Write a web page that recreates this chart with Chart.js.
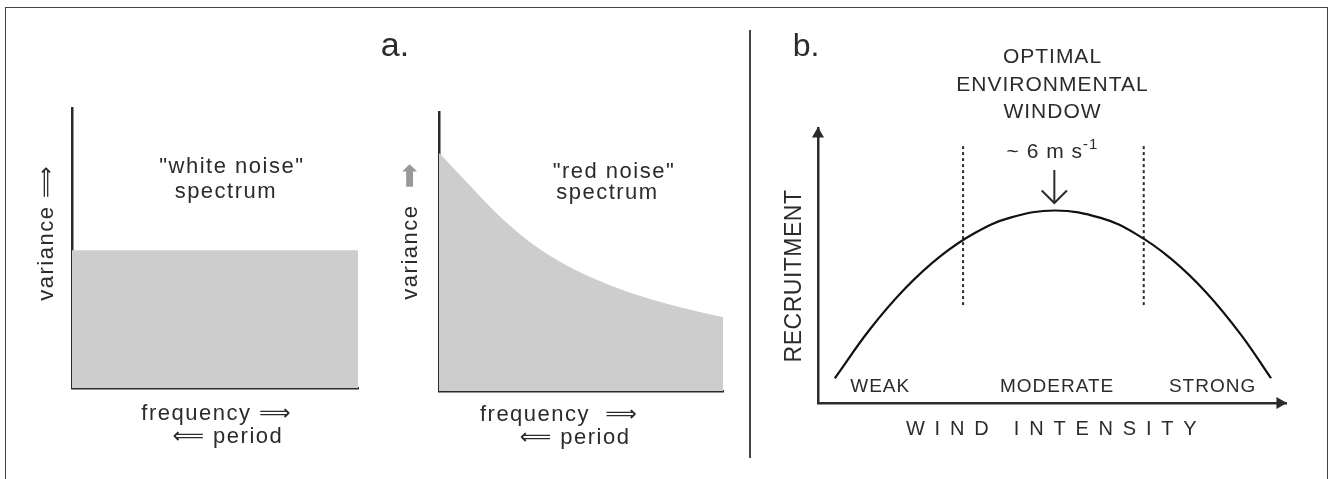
<!DOCTYPE html>
<html>
<head>
<meta charset="utf-8">
<script src="https://cdn.jsdelivr.net/npm/chart.js@4.4.0/dist/chart.umd.min.js"></script>
<style>
  html, body { margin: 0; padding: 0; background: #fff; overflow: hidden; }
  #page { position: relative; width: 1332px; height: 479px; overflow: hidden; }
  #frame { position: absolute; left: 5px; top: 7px; width: 1321px; height: 520px; border: 1px solid #444; }
  #divider { position: absolute; left: 749px; top: 30px; width: 2px; height: 428px; background: #444; }
  .panel { position: absolute; left: 0; top: 0; width: 1332px; height: 479px; }
</style>
</head>
<body>
<div id="page">
  <div id="frame"></div>
  <div id="divider"></div>
  <div class="panel"><canvas id="whiteNoiseChart"></canvas></div>
  <div class="panel"><canvas id="redNoiseChart"></canvas></div>
  <div class="panel"><canvas id="windowChart"></canvas></div>
</div>
<script>
(() => {
  'use strict'

  // panel a, left: flat spectrum
  const whiteNoiseX = [0, 100];
  const whiteNoiseY = [49, 49];

  // panel a, right: decaying spectrum
  const redNoiseX = [0, 9.7, 21.5, 33.2, 45, 56.7, 68.4, 80.2, 91.9, 100];
  const redNoiseY = [85.2, 74.7, 62.3, 52.3, 44.8, 39.2, 34.7, 31.1, 28.1, 26.3];

  // panel b: recruitment vs wind intensity
  const windX = [3.6, 11.1, 18.6, 26.1, 33.6, 41.1, 50.7, 60.4, 67.9, 75.4, 82.9, 90.4, 96.8];
  const recruitY = [9.0, 26.8, 41.6, 53.3, 61.9, 67.4, 70.0, 67.3, 61.5, 52.5, 40.3, 24.8, 9.0];
  const windowEdges = [31.0, 69.6];
  const windowSpan = [35.6, 93.8];
  const optimumX = 50.5;
  const optimumArrowY = [84.7, 72.7];
  const windCategories = ['WEAK', 'MODERATE', 'STRONG'];
  const windCategoryX = [13.3, 51.1, 84.3];

  const ink = '#2b2b2b';
  const fillGrey = '#cdcdcd';
  const fontFamily = '"Liberation Sans", Arial, Helvetica, "DejaVu Sans", sans-serif';

  const pts = (xs, ys) => xs.map((x, i) => ({ x: x, y: ys[i] }));

  // text placed in data coordinates of each chart
  const notes = (items) => ({
    id: 'notes',
    afterDatasetsDraw(chart) {
      const { ctx, scales: { x, y } } = chart;
      items.forEach(n => {
        const size = n.size || 22;
        ctx.save();
        ctx.font = `${size}px ${fontFamily}`;
        ctx.letterSpacing = (n.spacing === undefined ? 1.5 : n.spacing) + 'px';
        ctx.fillStyle = n.color || ink;
        ctx.textBaseline = 'middle';
        ctx.translate(x.getPixelForValue(n.x), y.getPixelForValue(n.y));
        if (n.rotate) ctx.rotate(n.rotate * Math.PI / 180);
        if (n.sup) {
          const w1 = ctx.measureText(n.text).width;
          const supFont = `${Math.round(size * 0.7)}px ${fontFamily}`;
          ctx.save();
          ctx.font = supFont;
          const w2 = ctx.measureText(n.sup).width;
          ctx.restore();
          ctx.textAlign = 'left';
          ctx.fillText(n.text, -(w1 + w2) / 2, 0);
          ctx.font = supFont;
          ctx.fillText(n.sup, -(w1 + w2) / 2 + w1, -size * 0.35);
        } else {
          ctx.textAlign = n.align || 'center';
          ctx.fillText(n.text, 0, 0);
        }
        ctx.restore();
      });
    }
  });

  const axis = {
    type: 'linear',
    min: 0,
    max: 100,
    ticks: { display: false },
    grid: { display: false, drawTicks: false },
    border: { display: true, color: ink, width: 2.5 }
  };

  const baseOptions = (padding) => ({
    responsive: true,
    maintainAspectRatio: false,
    animation: false,
    events: [],
    layout: { padding: padding, autoPadding: false },
    scales: { x: { ...axis }, y: { ...axis } },
    plugins: { legend: { display: false }, tooltip: { enabled: false }, title: { display: false } }
  });

  new Chart(document.getElementById('whiteNoiseChart'), {
    type: 'line',
    data: {
      datasets: [{
        data: pts(whiteNoiseX, whiteNoiseY),
        borderColor: fillGrey,
        borderWidth: 1,
        backgroundColor: fillGrey,
        fill: 'origin',
        pointRadius: 0
      }]
    },
    options: baseOptions({ left: 72, top: 108, right: 974, bottom: 91 }),
    plugins: [notes([
      { text: '"white noise"', x: 55.9, y: 78.9 },
      { text: 'spectrum', x: 53.8, y: 70.0 },
      { text: 'variance \u27F9', x: -8.7, y: 55.4, rotate: -90 },
      { text: 'frequency \u27F9', x: 50.6, y: -9.3 },
      { text: '\u27F8 period', x: 54.5, y: -17.5 },
      { text: 'a.', x: 112.9, y: 121.8, size: 34, spacing: 0 }
    ])]
  });

  new Chart(document.getElementById('redNoiseChart'), {
    type: 'line',
    data: {
      datasets: [{
        data: pts(redNoiseX, redNoiseY),
        borderColor: fillGrey,
        borderWidth: 1,
        backgroundColor: fillGrey,
        fill: 'origin',
        tension: 0.4,
        cubicInterpolationMode: 'monotone',
        pointRadius: 0
      }]
    },
    options: baseOptions({ left: 439, top: 112, right: 609, bottom: 88 }),
    plugins: [notes([
      { text: '"red noise"', x: 61.6, y: 78.6 },
      { text: 'spectrum', x: 59.3, y: 70.9 },
      { text: 'variance', x: -9.9, y: 49.8, rotate: -90 },
      { text: '\u27A1', x: -9.9, y: 77.1, rotate: -90, color: '#999', spacing: 0, size: 30 },
      { text: 'frequency  \u27F9', x: 42.3, y: -8.6 },
      { text: '\u27F8 period', x: 47.9, y: -16.8 }
    ])]
  });

  const lineSet = (data, extra) => Object.assign({
    data: data,
    borderColor: ink,
    borderWidth: 2,
    pointRadius: 0,
    fill: false,
    clip: false
  }, extra || {});

  new Chart(document.getElementById('windowChart'), {
    type: 'line',
    data: {
      datasets: [
        lineSet(pts(windX, recruitY), { borderColor: '#111', borderWidth: 2.2, tension: 0.4 }),
        lineSet([{ x: windowEdges[0], y: windowSpan[0] }, { x: windowEdges[0], y: windowSpan[1] }], { borderDash: [3, 3] }),
        lineSet([{ x: windowEdges[1], y: windowSpan[0] }, { x: windowEdges[1], y: windowSpan[1] }], { borderDash: [3, 3] }),
        lineSet([{ x: optimumX, y: optimumArrowY[0] }, { x: optimumX, y: optimumArrowY[1] }]),
        lineSet([
          { x: optimumX - 2.7, y: optimumArrowY[1] + 4.6 },
          { x: optimumX, y: optimumArrowY[1] },
          { x: optimumX + 2.7, y: optimumArrowY[1] + 4.6 }
        ]),
        {
          data: [{ x: 0, y: 97.8 }, { x: 98.7, y: 0 }],
          showLine: false,
          pointStyle: 'triangle',
          pointRadius: 7,
          rotation: [0, 90],
          backgroundColor: ink,
          borderWidth: 0,
          clip: false
        }
      ]
    },
    options: baseOptions({ left: 818, top: 128, right: 46, bottom: 76 }),
    plugins: [notes([
      { text: 'b.', x: -5.4, y: 129.5, size: 32, spacing: 0, align: 'left' },
      { text: 'OPTIMAL', x: 50.1, y: 125.8, size: 21, spacing: 1 },
      { text: 'ENVIRONMENTAL', x: 50.1, y: 115.6, size: 21, spacing: 1 },
      { text: 'WINDOW', x: 50.1, y: 105.8, size: 21, spacing: 1 },
      { text: '~ 6 m s', sup: '-1', x: 50.1, y: 91.3, size: 21, spacing: 1 },
      ...windCategories.map((c, i) => ({ text: c, x: windCategoryX[i], y: 5.9, size: 19, spacing: 1 })),
      { text: 'WIND INTENSITY', x: 50.9, y: -9.8, size: 20, spacing: 9.8 },
      { text: 'RECRUITMENT', x: -4.9, y: 46.2, rotate: -90, size: 23, spacing: 0.5 }
    ])]
  });

})();
</script>
</body>
</html>
